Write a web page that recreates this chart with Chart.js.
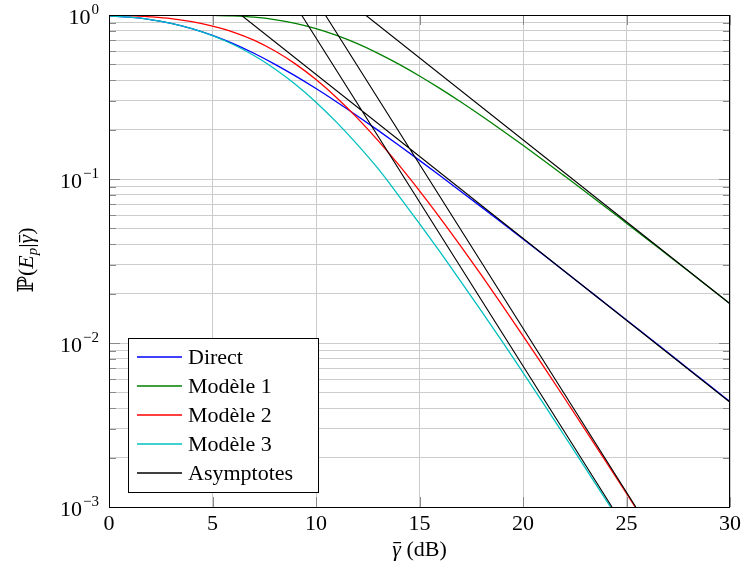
<!DOCTYPE html>
<html>
<head>
<meta charset="utf-8">
<script src="https://cdn.jsdelivr.net/npm/chart.js@4.4.0/dist/chart.umd.min.js"></script>
<style>
  html, body { margin: 0; padding: 0; background: #fff; }
</style>
</head>
<body>
<canvas id="myChart" width="745" height="571"></canvas>
<script>
// SNR moyen en dB
const snrDb = [0, 1, 2, 3, 4, 5, 6, 7, 8, 9, 10, 11, 12, 13, 14, 15, 16, 17, 18, 19, 20, 21, 22, 23, 24, 25, 26, 27, 28, 29, 30];

// Probabilités
const pDirect = [0.9877, 0.9697, 0.9377, 0.8897, 0.8265, 0.7513, 0.6689, 0.5843, 0.5021, 0.4253, 0.3560, 0.2950, 0.2424, 0.1979, 0.1607, 0.1299, 0.1046, 0.0840, 0.06736, 0.05389, 0.04305, 0.03435, 0.02738, 0.02181, 0.01736, 0.01382, 0.01099, 0.00874, 0.00695, 0.00552, 0.00439];
const pModele1 = [1.0, 1.0, 1.0, 0.9998, 0.9991, 0.9961, 0.9877, 0.9696, 0.9376, 0.8896, 0.8262, 0.7510, 0.6686, 0.5840, 0.5018, 0.4250, 0.3557, 0.2947, 0.2422, 0.1977, 0.1605, 0.1298, 0.1045, 0.0840, 0.0673, 0.0538, 0.0430, 0.0343, 0.0274, 0.0218, 0.01735];
const pModele2 = [0.9982, 0.9933, 0.975, 0.95, 0.91, 0.855, 0.787, 0.7023, 0.6050, 0.5034, 0.4041, 0.3133, 0.2351, 0.1714, 0.1218, 0.08467, 0.05780, 0.03886, 0.02581, 0.01697, 0.01107, 0.00717, 0.00462, 0.002964, 0.001896, 0.001209, 0.000769];
const pModele3 = [0.9877, 0.9697, 0.9377, 0.8896, 0.8257, 0.7483, 0.6607, 0.5665, 0.4707, 0.3783, 0.2941, 0.2215, 0.1621, 0.1156, 0.0790, 0.0535, 0.0358, 0.0237, 0.0156, 0.0102, 0.00660, 0.00425, 0.00272, 0.00174, 0.00111, 0.000707];

// Asymptotes (deux points chacune)
const asymDirectX = [6.38, 30];
const asymDirectY = [1, 0.00435];
const asymModele1X = [12.39, 30];
const asymModele1Y = [1, 0.01734];
const asymModele2X = [10.45, 25.45];
const asymModele2Y = [1, 0.001];
const asymModele3X = [9.3, 24.3];
const asymModele3Y = [1, 0.001];

// Graduations
const xTicks = [0, 5, 10, 15, 20, 25, 30];
const yDecades = [0.001, 0.01, 0.1, 1];
const yExponents = ['\u22123', '\u22122', '\u22121', '0'];

const legendLabels = ['Direct', 'Modèle 1', 'Modèle 2', 'Modèle 3', 'Asymptotes'];
const legendColors = ['#0000ff', '#008000', '#ff0000', '#00c0c0', '#000000'];

const serif = "'Liberation Serif', 'DejaVu Serif', serif";

// Lignes de grille mineures (2..9 x 10^k)
const yGrid = [];
for (let k = -3; k < 0; k++) {
    for (let m = 1; m < 10; m++) yGrid.push(m * Math.pow(10, k));
}
yGrid.push(1);

function toPoints(xs, ys) {
    return ys.map((y, i) => ({x: xs[i], y: y}));
}

// Les quatre asymptotes dans un seul jeu de données, séparées par des trous
const asymPoints = [].concat(
    toPoints(asymDirectX, asymDirectY), [{x: 30, y: null}],
    toPoints(asymModele1X, asymModele1Y), [{x: 30, y: null}],
    toPoints(asymModele2X, asymModele2Y), [{x: 30, y: null}],
    toPoints(asymModele3X, asymModele3Y)
);

const decoPlugin = {
    id: 'deco',
    afterDraw(chart) {
        const ctx = chart.ctx;
        const a = chart.chartArea;
        const xs = chart.scales.x;
        const ys = chart.scales.y;
        ctx.save();

        // petites graduations intérieures
        ctx.strokeStyle = '#8a8a8a';
        ctx.lineWidth = 1;
        ctx.beginPath();
        yGrid.forEach(v => {
            const py = Math.round(ys.getPixelForValue(v)) + 0.5;
            const len = yDecades.includes(v) ? 11 : 7;
            ctx.moveTo(a.left, py); ctx.lineTo(a.left + len, py);
            ctx.moveTo(a.right, py); ctx.lineTo(a.right - len, py);
        });
        xTicks.forEach(v => {
            const px = Math.round(xs.getPixelForValue(v)) + 0.5;
            ctx.moveTo(px, a.top); ctx.lineTo(px, a.top + 10);
            ctx.moveTo(px, a.bottom); ctx.lineTo(px, a.bottom - 10);
        });
        ctx.stroke();

        // cadre
        ctx.strokeStyle = '#000';
        ctx.strokeRect(a.left + 0.5, a.top + 0.5, a.right - a.left - 1, a.bottom - a.top);

        // étiquettes de l'axe y : 10^k
        ctx.fillStyle = '#000';
        ctx.textBaseline = 'alphabetic';
        ctx.textAlign = 'right';
        yDecades.forEach((v, i) => {
            const py = ys.getPixelForValue(v);
            const right = a.left - 10;
            ctx.font = '15px ' + serif;
            ctx.fillText(yExponents[i], right, py - 1);
            const ew = ctx.measureText(yExponents[i]).width;
            ctx.font = '22px ' + serif;
            ctx.fillText('10', right - ew - 1, py + 9);
        });

        // titre de l'axe x
        ctx.textAlign = 'left';
        const cx = (a.left + a.right) / 2;
        ctx.font = '22px ' + serif;
        const rest = ' (dB)';
        const rw = ctx.measureText(rest).width;
        ctx.font = 'italic 22px ' + serif;
        const gw = ctx.measureText('γ').width;
        const x0 = cx - (gw + rw) / 2;
        const by = 556;
        ctx.fillText('γ', x0, by);
        ctx.fillRect(x0 + 1, by - 14, gw - 1, 1.2);
        ctx.font = '22px ' + serif;
        ctx.fillText(rest, x0 + gw, by);

        // titre de l'axe y (tourné)
        ctx.save();
        ctx.translate(33, 260);
        ctx.rotate(-Math.PI / 2);
        const parts = [
            {t: 'ℙ(', f: '22px ' + serif, dy: 0},
            {t: 'E', f: 'italic 22px ' + serif, dy: 0},
            {t: 'p', f: 'italic 15px ' + serif, dy: 4},
            {t: '|', f: '22px ' + serif, dy: 0},
            {t: 'γ', f: 'italic 22px ' + serif, dy: 0, bar: true},
            {t: ')', f: '22px ' + serif, dy: 0}
        ];
        let total = 0;
        parts.forEach(p => { ctx.font = p.f; p.w = ctx.measureText(p.t).width; total += p.w; });
        let tx = -total / 2;
        parts.forEach(p => {
            ctx.font = p.f;
            ctx.fillText(p.t, tx, p.dy);
            if (p.bar) ctx.fillRect(tx + 1, -14, p.w - 1, 1.2);
            tx += p.w;
        });
        ctx.restore();

        // légende
        const lx = 128.5, ly = 338.5, lw = 190, lh = 154;
        ctx.fillStyle = '#fff';
        ctx.fillRect(lx, ly, lw, lh);
        ctx.strokeStyle = '#000';
        ctx.lineWidth = 1;
        ctx.strokeRect(lx, ly, lw, lh);
        ctx.font = '22px ' + serif;
        legendLabels.forEach((lab, i) => {
            const ry = 357 + i * 29;
            ctx.strokeStyle = legendColors[i];
            ctx.lineWidth = 1.3;
            ctx.beginPath();
            ctx.moveTo(137, ry); ctx.lineTo(182, ry);
            ctx.stroke();
            ctx.fillStyle = '#000';
            ctx.fillText(lab, 188, ry + 7);
        });

        ctx.restore();
    }
};

const ctx = document.getElementById('myChart').getContext('2d');

window.myChart = new Chart(ctx, {
    type: 'line',
    data: {
        datasets: [
            {
                label: 'Asymptotes',
                data: asymPoints,
                borderColor: legendColors[4],
                borderWidth: 1.1,
                tension: 0,
                spanGaps: false,
                order: 0
            },
            {
                label: 'Modèle 3',
                data: toPoints(snrDb, pModele3),
                borderColor: legendColors[3],
                borderWidth: 1.3,
                cubicInterpolationMode: 'monotone',
                order: 1
            },
            {
                label: 'Modèle 2',
                data: toPoints(snrDb, pModele2),
                borderColor: legendColors[2],
                borderWidth: 1.3,
                cubicInterpolationMode: 'monotone',
                order: 2
            },
            {
                label: 'Modèle 1',
                data: toPoints(snrDb, pModele1),
                borderColor: legendColors[1],
                borderWidth: 1.3,
                cubicInterpolationMode: 'monotone',
                order: 3
            },
            {
                label: 'Direct',
                data: toPoints(snrDb, pDirect),
                borderColor: legendColors[0],
                borderWidth: 1.3,
                cubicInterpolationMode: 'monotone',
                order: 4
            }
        ]
    },
    options: {
        responsive: false,
        animation: false,
        elements: {
            point: { radius: 0 },
            line: { fill: false }
        },
        layout: {
            padding: { top: 15, right: 12, left: 0, bottom: 0 }
        },
        plugins: {
            legend: { display: false },
            tooltip: { enabled: false }
        },
        scales: {
            x: {
                type: 'linear',
                min: 0,
                max: 30,
                afterBuildTicks: s => { s.ticks = xTicks.map(v => ({value: v})); },
                ticks: {
                    color: '#000',
                    font: { family: serif, size: 22 },
                    padding: 4,
                    maxRotation: 0
                },
                grid: { color: '#cccccc', drawTicks: false },
                border: { display: false },
                afterFit: s => { s.height = 64; }
            },
            y: {
                type: 'logarithmic',
                min: 0.001,
                max: 1,
                afterBuildTicks: s => { s.ticks = yGrid.map(v => ({value: v})); },
                ticks: { display: false },
                grid: { color: '#cccccc', drawTicks: false },
                border: { display: false },
                afterFit: s => { s.width = 109; }
            }
        }
    },
    plugins: [decoPlugin]
});
</script>
</body>
</html>
